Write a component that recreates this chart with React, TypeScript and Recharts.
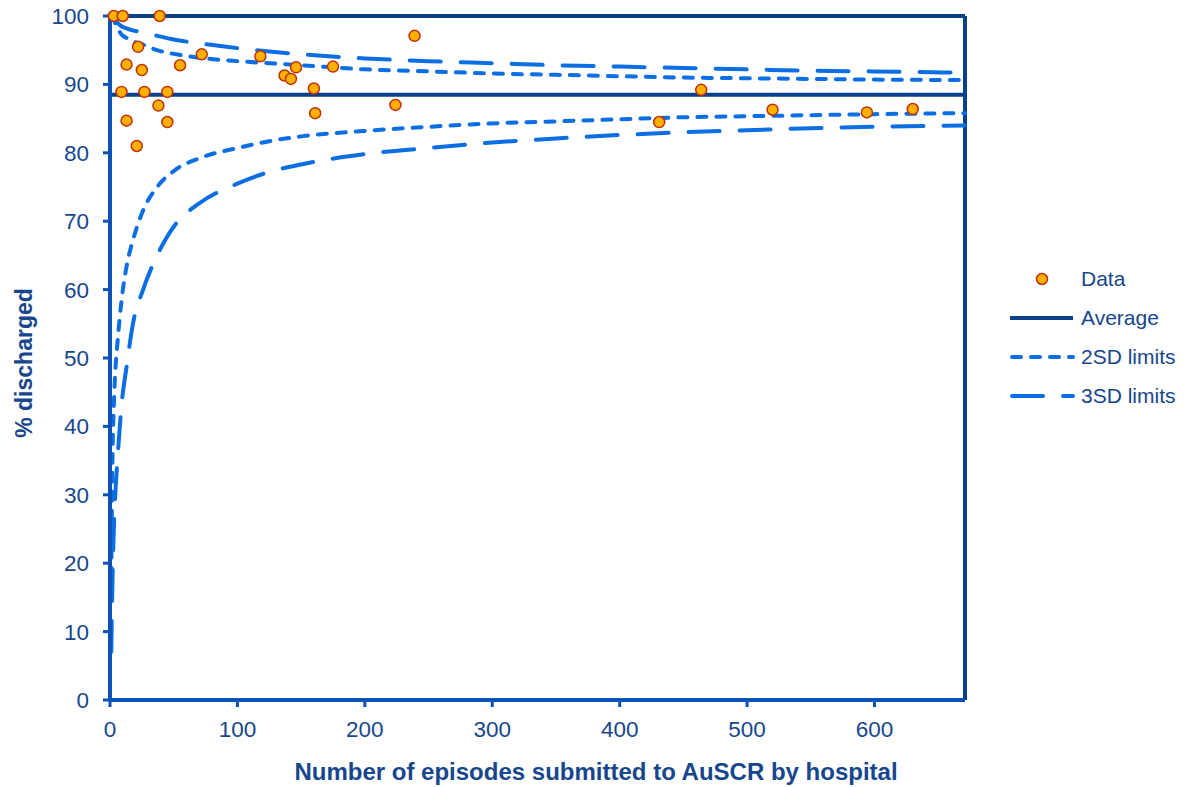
import { ComposedChart, Line, ReferenceLine, Scatter, XAxis, YAxis } from "recharts";

// hospitals: episodes submitted vs % discharged
const episodes = [3, 10, 39, 9, 13, 13, 22, 21, 25, 27, 38, 45, 45, 55, 72, 118, 137, 142, 146, 160, 161, 175, 224, 239, 431, 464, 520, 594, 630];
const discharged = [100, 100, 100, 88.9, 92.9, 84.7, 95.5, 81.0, 92.1, 88.9, 86.9, 88.9, 84.5, 92.8, 94.4, 94.1, 91.3, 90.8, 92.5, 89.4, 85.8, 92.6, 87.0, 97.1, 84.5, 89.2, 86.3, 85.9, 86.4];

const AVERAGE = 88.5;

// control limits
const limitN = [1, 2, 3, 4, 6, 9, 13, 18, 26, 37, 52, 70, 100, 125, 150, 200, 250, 300, 350, 400, 450, 500, 550, 600, 671];
const upper3 = [100, 100, 99.8, 99.5, 99.0, 98.5, 98.2, 97.9, 97.6, 97.1, 96.5, 96.0, 95.3, 94.8, 94.4, 93.8, 93.4, 93.1, 92.8, 92.6, 92.4, 92.2, 92.0, 91.9, 91.7];
const upper2 = [100, 100, 99.5, 99.0, 98.2, 97.3, 96.8, 96.3, 95.8, 95.0, 94.4, 93.9, 93.4, 93.1, 92.8, 92.2, 91.9, 91.6, 91.4, 91.2, 91.0, 90.9, 90.8, 90.7, 90.65];
const lower2 = [18, 36, 43, 47.5, 52.5, 58.3, 63.4, 67.2, 71.6, 75.0, 77.6, 79.2, 80.7, 81.7, 82.4, 83.2, 83.8, 84.3, 84.6, 84.9, 85.2, 85.35, 85.5, 85.65, 85.8];
const lower3 = [7, 18, 25, 29.5, 35.5, 43, 48.7, 55, 60, 65, 69.7, 72.6, 75.5, 77.2, 78.3, 79.8, 80.7, 81.5, 82.1, 82.6, 83.0, 83.3, 83.6, 83.8, 84.0];

const xTicks = [0, 100, 200, 300, 400, 500, 600];
const yTicks = [0, 10, 20, 30, 40, 50, 60, 70, 80, 90, 100];

const limits = limitN.map((n, i) => ({ n, upper3: upper3[i], upper2: upper2[i], lower2: lower2[i], lower3: lower3[i] }));
const points = episodes.map((n, i) => ({ n, pct: discharged[i] }));

const FONT = "'Liberation Sans', Arial, sans-serif";
const TEXT = "#17468c";
const AXIS = "#0a52b5";
const DARK = "#0a3f8c";
const DASH = "#0b6fe3";
const SHORT = "9 10";
const LONG = "31 20";

function FunnelLegend() {
  const row = { display: "flex", alignItems: "center", height: 39 } as const;
  return (
    <div style={{ position: "absolute", left: 1008, top: 259, fontFamily: FONT, fontSize: 21, color: TEXT }}>
      <div style={row}>
        <svg height={20} width={73}>
          <circle cx={34} cy={10} fill="#ffb000" r={5.5} stroke="#c0300a" strokeWidth={1.5} />
        </svg>
        <span>Data</span>
      </div>
      <div style={row}>
        <svg height={20} width={73}>
          <line stroke={DARK} strokeWidth={4} x1={2} x2={65} y1={10} y2={10} />
        </svg>
        <span>Average</span>
      </div>
      <div style={row}>
        <svg height={20} width={73}>
          <line stroke={DASH} strokeDasharray={SHORT} strokeLinecap="round" strokeWidth={4} x1={4} x2={65} y1={10} y2={10} />
        </svg>
        <span>2SD limits</span>
      </div>
      <div style={row}>
        <svg height={20} width={73}>
          <line stroke={DASH} strokeDasharray={LONG} strokeLinecap="round" strokeWidth={4} x1={4} x2={65} y1={10} y2={10} />
        </svg>
        <span>3SD limits</span>
      </div>
    </div>
  );
}

export default function App() {
  return (
    <div style={{ position: "absolute", left: 0, top: 0, width: 1189, height: 787, background: "#fff" }}>
      <ComposedChart data={limits} height={787} margin={{ top: 16, right: 224, bottom: 0, left: 0 }} width={1189}>
        <XAxis
          axisLine={{ stroke: AXIS, strokeWidth: 4 }}
          dataKey="n"
          domain={[0, 671]}
          height={87}
          tick={{ fill: TEXT, fontFamily: FONT, fontSize: 22.5 }}
          tickLine={{ stroke: AXIS, strokeWidth: 3 }}
          tickMargin={14}
          tickSize={7}
          ticks={xTicks}
          type="number"
        />
        <YAxis
          axisLine={{ stroke: AXIS, strokeWidth: 4 }}
          domain={[0, 100]}
          tick={{ fill: TEXT, fontFamily: FONT, fontSize: 22.5 }}
          tickLine={{ stroke: AXIS, strokeWidth: 3 }}
          tickMargin={14}
          tickSize={7}
          ticks={yTicks}
          type="number"
          width={110}
        />
        <ReferenceLine stroke={DARK} strokeWidth={4} y={100} />
        <ReferenceLine stroke={DARK} strokeWidth={4} x={671} />
        <ReferenceLine stroke={DARK} strokeWidth={4} y={AVERAGE} />
        <Line dataKey="upper3" dot={false} isAnimationActive={false} stroke={DASH} strokeDasharray={LONG} strokeLinecap="round" strokeWidth={4} type="monotone" />
        <Line dataKey="upper2" dot={false} isAnimationActive={false} stroke={DASH} strokeDasharray={SHORT} strokeLinecap="round" strokeWidth={4} type="monotone" />
        <Line dataKey="lower2" dot={false} isAnimationActive={false} stroke={DASH} strokeDasharray={SHORT} strokeLinecap="round" strokeWidth={4} type="monotone" />
        <Line dataKey="lower3" dot={false} isAnimationActive={false} stroke={DASH} strokeDasharray={LONG} strokeLinecap="round" strokeWidth={4} type="monotone" />
        <Scatter
          data={points}
          dataKey="pct"
          fill="#ffb000"
          isAnimationActive={false}
          shape={(p: any) => <circle cx={p.cx} cy={p.cy} fill="#ffb000" r={5.5} stroke="#c0300a" strokeWidth={1.5} />}
        />
        <text fill={TEXT} fontFamily={FONT} fontSize={24} fontWeight="bold" textAnchor="middle" x={596} y={780}>
          Number of episodes submitted to AuSCR by hospital
        </text>
        <text
          fill={TEXT}
          fontFamily={FONT}
          fontSize={23}
          fontWeight="bold"
          textAnchor="middle"
          transform="rotate(-90, 32, 363)"
          x={32}
          y={363}
        >
          % discharged
        </text>
      </ComposedChart>
      <FunnelLegend />
    </div>
  );
}
